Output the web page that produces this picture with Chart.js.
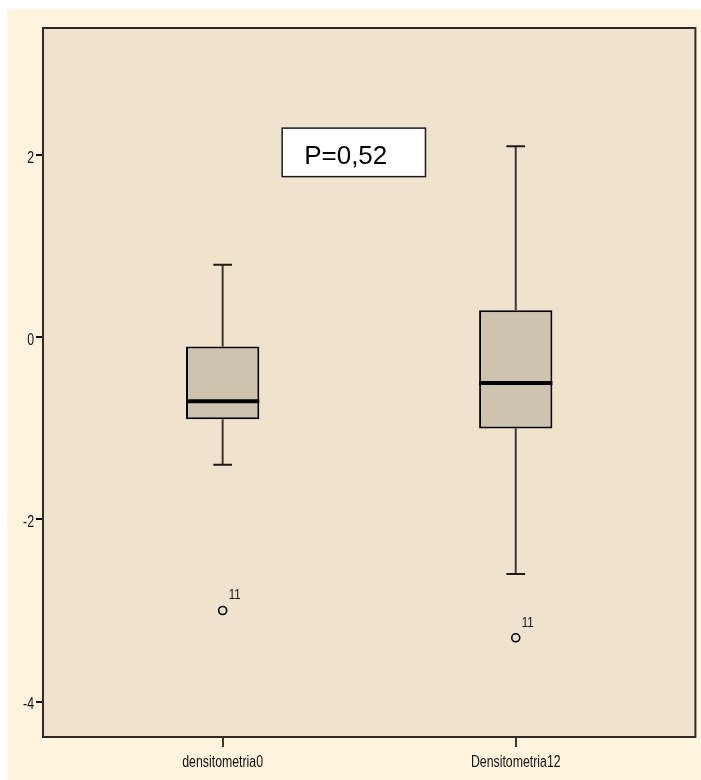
<!DOCTYPE html>
<html>
<head>
<meta charset="utf-8">
<script src="https://cdn.jsdelivr.net/npm/chart.js@4/dist/chart.umd.min.js"></script>
<style>
  html, body { margin: 0; padding: 0; background: #ffffff; overflow: hidden; }
  #wrap { width: 701px; height: 780px; position: relative; }
</style>
</head>
<body>
<div id="wrap"><canvas id="chart"></canvas></div>
<script>
// Box-plot summary per variable
const categories   = ['densitometria0', 'Densitometria12'];
const whiskerLow   = [-1.4, -2.6];
const quartile1    = [-0.9, -1.0];
const medians      = [-0.7, -0.5];
const quartile3    = [-0.1, 0.3];
const whiskerHigh  = [0.8, 2.1];
const outliers     = [-3.0, -3.3];
const outlierCases = ['11', '11'];
const yTickValues  = [2, 0, -2, -4];
const pValueText   = 'P=0,52';

const labelFont = "'Liberation Sans', Arial, sans-serif";
const condense = 0.77;   // horizontal squeeze for the narrow axis lettering
const xPos = categories.map((_, i) => i + 1);
const boxHalf = 0.125;   // half box width in x units
const capHalf = 0.032;   // half whisker-cap width in x units

function segments(build) {
  const pts = [];
  xPos.forEach((x, i) => {
    build(x, i).forEach(seg => {
      pts.push(seg[0], seg[1], { x: x + 0.3, y: null });
    });
  });
  return pts;
}

const whiskerData = segments((x, i) => [
  [{ x, y: whiskerLow[i] }, { x, y: quartile1[i] }],
  [{ x, y: quartile3[i] }, { x, y: whiskerHigh[i] }]
]);
const capData = segments((x, i) => [
  [{ x: x - capHalf, y: whiskerLow[i] }, { x: x + capHalf, y: whiskerLow[i] }],
  [{ x: x - capHalf, y: whiskerHigh[i] }, { x: x + capHalf, y: whiskerHigh[i] }]
]);
const medianData = segments((x, i) => [
  [{ x: x - boxHalf, y: medians[i] }, { x: x + boxHalf, y: medians[i] }]
]);

const pBox = { x0: 1.203, x1: 1.692, y0: 2.30, y1: 1.767 };

// draws condensed text with its anchor at (x, y)
function narrowText(ctx, text, x, y, align, size) {
  ctx.save();
  ctx.font = size + 'px ' + labelFont;
  ctx.textAlign = align;
  ctx.textBaseline = 'alphabetic';
  ctx.translate(x, y);
  ctx.scale(condense, 1);
  ctx.fillText(text, 0, 0);
  ctx.restore();
}

const framePlugin = {
  id: 'frame',
  beforeDraw(chart) {
    const { ctx, chartArea: a, width, height } = chart;
    ctx.save();
    ctx.fillStyle = '#ffffff';
    ctx.fillRect(0, 0, width, height);
    ctx.fillStyle = '#fef3dd';
    ctx.fillRect(7, 9, width - 7, height - 9);
    ctx.fillStyle = '#efe3cd';
    ctx.fillRect(a.left, a.top, a.right - a.left, a.bottom - a.top);
    ctx.restore();
  },
  afterDraw(chart) {
    const { ctx, chartArea: a, scales } = chart;
    const xs = scales.x, ys = scales.y;
    ctx.save();
    // plot frame
    ctx.strokeStyle = '#2e2b27';
    ctx.lineWidth = 2;
    ctx.strokeRect(a.left, a.top, a.right - a.left, a.bottom - a.top);

    ctx.fillStyle = '#111111';
    // axis tick labels
    yTickValues.forEach(v => {
      narrowText(ctx, String(v), a.left - 9, ys.getPixelForValue(v) + 7.5, 'right', 16);
    });
    xPos.forEach((v, i) => {
      narrowText(ctx, categories[i], xs.getPixelForValue(v), a.bottom + 30, 'center', 16);
    });

    // case numbers next to outliers
    const meta = chart.getDatasetMeta(chart.data.datasets.findIndex(d => d.label === 'outliers'));
    meta.data.forEach((pt, i) => {
      narrowText(ctx, outlierCases[i], pt.x + 6, pt.y - 11, 'left', 15);
    });

    // p-value box
    const bx0 = xs.getPixelForValue(pBox.x0), bx1 = xs.getPixelForValue(pBox.x1);
    const by0 = ys.getPixelForValue(pBox.y0), by1 = ys.getPixelForValue(pBox.y1);
    ctx.fillStyle = '#ffffff';
    ctx.fillRect(bx0, by0, bx1 - bx0, by1 - by0);
    ctx.strokeStyle = '#1a1a1a';
    ctx.lineWidth = 1.5;
    ctx.strokeRect(bx0, by0, bx1 - bx0, by1 - by0);
    ctx.fillStyle = '#000000';
    ctx.font = "26px " + labelFont;
    ctx.textAlign = 'left';
    ctx.textBaseline = 'alphabetic';
    ctx.fillText(pValueText, bx0 + 22, by0 + 36);
    ctx.restore();
  }
};

const chart = new Chart(document.getElementById('chart'), {
  data: {
    datasets: [
      {
        type: 'line', label: 'medians', data: medianData, order: 0,
        borderColor: '#000000', borderWidth: 4, pointRadius: 0, spanGaps: false
      },
      {
        type: 'scatter', label: 'outliers', order: 0,
        data: xPos.map((x, i) => ({ x, y: outliers[i] })),
        pointStyle: 'circle', pointRadius: 4, pointBorderWidth: 1.6,
        pointBorderColor: '#000000', pointBackgroundColor: 'rgba(0,0,0,0)'
      },
      {
        type: 'bar', label: 'boxes', order: 1,
        data: xPos.map((x, i) => ({ x, y: [quartile1[i], quartile3[i]] })),
        backgroundColor: '#cdc3ae', borderColor: '#000000', borderWidth: 2,
        borderSkipped: false, barPercentage: 0.25, categoryPercentage: 1
      },
      {
        type: 'line', label: 'caps', data: capData, order: 2,
        borderColor: '#1e1b18', borderWidth: 2, pointRadius: 0, spanGaps: false
      },
      {
        type: 'line', label: 'whiskers', data: whiskerData, order: 2,
        borderColor: '#3e3832', borderWidth: 2, pointRadius: 0, spanGaps: false
      }
    ]
  },
  options: {
    responsive: true,
    maintainAspectRatio: false,
    animation: false,
    events: [],
    layout: { padding: { left: 0, top: 28, right: 2, bottom: 0 } },
    plugins: { legend: { display: false }, tooltip: { enabled: false } },
    scales: {
      x: {
        type: 'linear', min: 0.387, max: 2.613, offset: false,
        afterBuildTicks: s => { s.ticks = xPos.map(v => ({ value: v })); },
        afterFit: s => { s.height = 43; },
        grid: { offset: false, drawOnChartArea: false, drawTicks: true, tickLength: 10, color: '#3e3832', lineWidth: 2 },
        border: { display: true, color: '#2e2b27', width: 2 },
        ticks: { display: false }
      },
      y: {
        type: 'linear', min: -4.39, max: 3.40,
        afterBuildTicks: s => { s.ticks = yTickValues.map(v => ({ value: v })); },
        afterFit: s => { s.width = 43; },
        grid: { drawOnChartArea: false, drawTicks: true, tickLength: 7, color: '#111111', lineWidth: 2 },
        border: { display: true, color: '#2e2b27', width: 2 },
        ticks: { display: false }
      }
    }
  },
  plugins: [framePlugin]
});
</script>
</body>
</html>
